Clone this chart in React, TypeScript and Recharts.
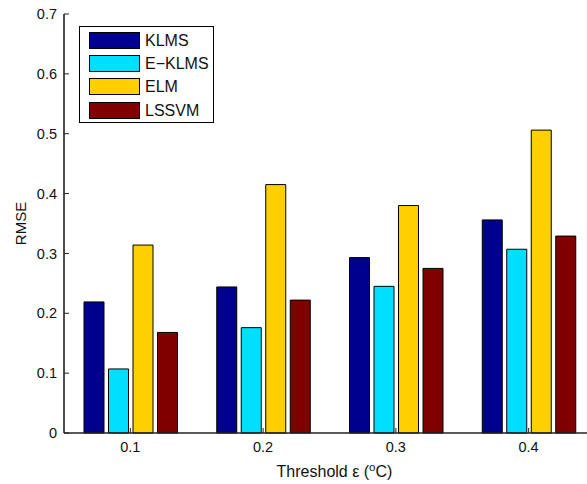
import React from 'react';
import { BarChart, Bar, XAxis, YAxis, Legend } from 'recharts';

const categories = ['0.1', '0.2', '0.3', '0.4'];
const klms = [0.219, 0.244, 0.293, 0.356];
const eklms = [0.107, 0.176, 0.245, 0.307];
const elm = [0.314, 0.415, 0.380, 0.506];
const lssvm = [0.168, 0.222, 0.275, 0.329];
const yTicks = [0, 0.1, 0.2, 0.3, 0.4, 0.5, 0.6, 0.7];

const seriesNames = ['KLMS', 'E\u2212KLMS', 'ELM', 'LSSVM'];
const seriesKeys = ['klms', 'eklms', 'elm', 'lssvm'];
const seriesColors = ['#00008F', '#00DFFF', '#FFCF00', '#800000'];

const data = categories.map((c, i) => ({
  cat: c,
  klms: klms[i],
  eklms: eklms[i],
  elm: elm[i],
  lssvm: lssvm[i],
}));

const FONT = '"Liberation Sans", Arial, Helvetica, sans-serif';

const LegendBox = () => (
  <div
    style={{
      border: '1px solid #000',
      background: '#fff',
      width: 133,
      height: 95,
      boxSizing: 'content-box',
      fontFamily: FONT,
      fontSize: 16,
      color: '#111',
      position: 'relative',
    }}
  >
    {seriesNames.map((n, i) => (
      <div
        key={n}
        style={{
          position: 'absolute',
          left: 9,
          top: 5 + i * 23.2,
          display: 'flex',
          alignItems: 'center',
          height: 17,
        }}
      >
        <div
          style={{
            width: 49,
            height: 15,
            background: seriesColors[i],
            border: '1px solid #000',
            marginRight: 5,
          }}
        />
        <span style={{ lineHeight: '17px' }}>{n}</span>
      </div>
    ))}
  </div>
);

const YLabel = (props: any) => {
  const vb = props.viewBox;
  const cy = vb.y + vb.height / 2;
  return (
    <text
      x={20}
      y={cy}
      transform={`rotate(-90, 20, ${cy})`}
      textAnchor="middle"
      dominantBaseline="central"
      fontFamily={FONT}
      fontSize={15}
      fill="#111"
    >
      RMSE
    </text>
  );
};

const XLabel = (props: any) => {
  const vb = props.viewBox;
  const cx = vb.x + vb.width / 2 + 5;
  return (
    <text x={cx} y={477} textAnchor="middle" fontFamily={FONT} fontSize={16} fill="#111">
      Threshold {'\u03B5'} (
      <tspan dy={-6} fontSize={11.5}>o</tspan>
      <tspan dy={6}>C)</tspan>
    </text>
  );
};

export default function App() {
  return (
    <>
      <style>{'html,body{margin:0;padding:0;overflow:hidden;background:#fff}'}</style>
      <div style={{ position: 'fixed', left: 0, top: 0, width: 587, height: 484, overflow: 'hidden', background: '#fff' }}>
        <BarChart
          width={600}
          height={484}
          data={data}
          margin={{ top: 14, right: 5, bottom: 21, left: 0 }}
          barSize={20}
          barGap={4.5}
        >
          <XAxis
            dataKey="cat"
            xAxisId="bottom"
            height={30}
            tickSize={-5}
            tickMargin={14}
            axisLine={{ stroke: '#222', strokeWidth: 1.6 }}
            tickLine={{ stroke: '#222' }}
            tick={{ fill: '#111', fontFamily: FONT, fontSize: 14.5 }}
            label={<XLabel />}
          />
          <XAxis
            dataKey="cat"
            xAxisId="top"
            orientation="top"
            height={0}
            tickSize={-5}
            tickFormatter={() => ''}
            axisLine={{ stroke: '#222', strokeWidth: 1.6 }}
            tickLine={{ stroke: '#222' }}
          />
          <YAxis
            yAxisId="left"
            width={64}
            domain={[0, 0.7]}
            ticks={yTicks}
            interval={0}
            tickSize={-5}
            tickMargin={12}
            axisLine={{ stroke: '#222', strokeWidth: 1.6 }}
            tickLine={{ stroke: '#222' }}
            tick={{ fill: '#111', fontFamily: FONT, fontSize: 14.5 }}
            tickFormatter={(v: number) => (v === 0 ? '0' : String(v))}
            label={<YLabel />}
          />
          <Legend
            verticalAlign="middle"
            align="center"
            layout="horizontal"
            wrapperStyle={{ left: 79, top: 26, width: 135, height: 97 }}
            content={<LegendBox />}
          />
          {seriesKeys.map((k, i) => (
            <Bar
              key={k}
              dataKey={k}
              name={seriesNames[i]}
              xAxisId="bottom"
              yAxisId="left"
              fill={seriesColors[i]}
              stroke="#000"
              strokeWidth={1}
              isAnimationActive={false}
            />
          ))}
        </BarChart>
      </div>
    </>
  );
}
